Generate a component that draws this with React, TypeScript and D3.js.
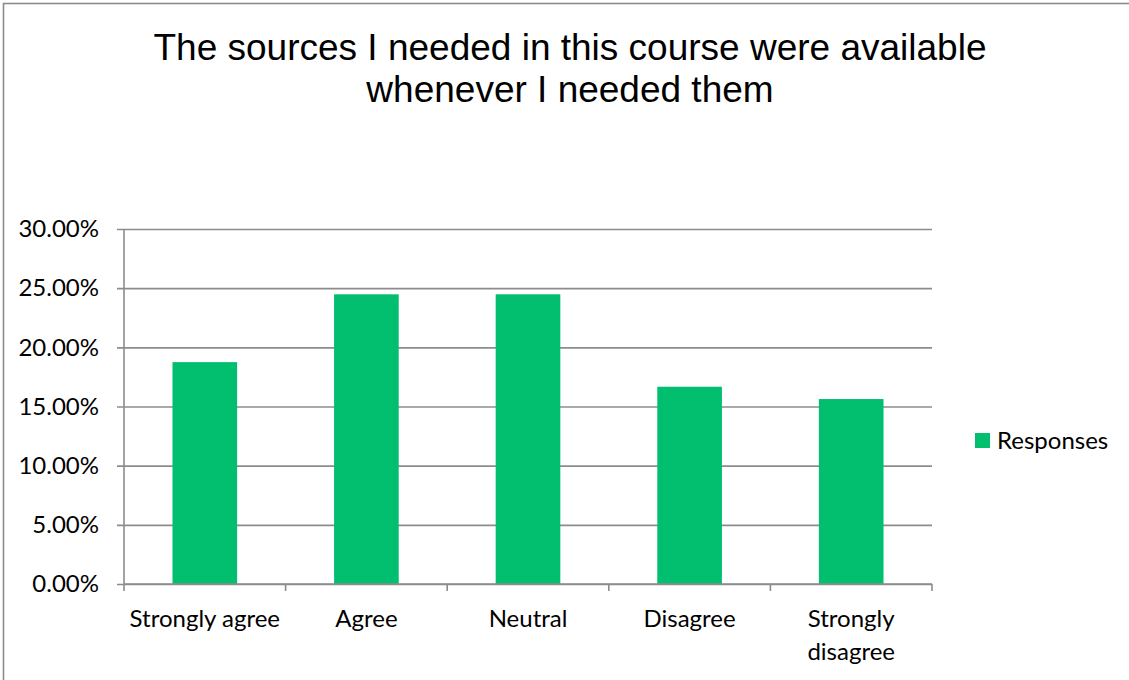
import { axisLeft, scaleBand, scaleLinear, select } from "d3";
import { useEffect, useRef } from "react";

const categories = ["Strongly agree", "Agree", "Neutral", "Disagree", "Strongly disagree"];
const responses = [0.1875, 0.2448, 0.2448, 0.1667, 0.1563];
const yTicks = [0, 0.05, 0.1, 0.15, 0.2, 0.25, 0.3];
const titleLines = ["The sources I needed in this course were available", "whenever I needed them"];
const seriesName = "Responses";

const W = 1129;
const H = 680;
const GREEN = "#02bf6f";
const GRID = "#8c8c8c";
const LABEL_FONT = "Lato, 'Open Sans', sans-serif";
const LABEL_SIZE = 24;

const margin = { top: 229, right: 197, bottom: 96, left: 124 };
const plotW = W - margin.left - margin.right;
const plotH = H - margin.top - margin.bottom;

function YAxis({ scale }: { scale: ReturnType<typeof scaleLinear<number, number>> }) {
  const ref = useRef<SVGGElement>(null);
  useEffect(() => {
    if (!ref.current) return;
    const g = select(ref.current);
    g.call(
      axisLeft(scale)
        .tickValues(yTicks)
        .tickSize(-plotW - 7)
        .tickSizeOuter(0)
        .tickFormat((d) => `${(+d * 100).toFixed(2)}%`)
    );
    g.select(".domain").remove();
    g.selectAll(".tick line")
      .attr("x1", -7)
      .attr("x2", plotW)
      .attr("stroke", GRID)
      .attr("stroke-width", 1.6);
    g.selectAll(".tick text")
      .attr("x", -25)
      .attr("fill", "#000")
      .style("font-family", LABEL_FONT)
      .style("font-size", `${LABEL_SIZE}px`);
  }, [scale]);
  return <g ref={ref} />;
}

export default function App() {
  const y = scaleLinear().domain([0, 0.3]).range([plotH, 0]);
  const x = scaleBand<string>().domain(categories).range([0, plotW]).padding(0);
  const barW = x.bandwidth() * 0.4;

  return (
    <svg
      width={W}
      height={H}
      style={{ position: "absolute", left: 0, top: 0, background: "#fff" }}
    >
      <rect x={3.5} y={3.5} width={W + 10} height={H + 10} fill="#fff" stroke={GRID} strokeWidth={1.6} />

      {titleLines.map((t, i) => (
        <text
          key={t}
          x={570}
          y={60 + i * 42}
          textAnchor="middle"
          fontFamily="'Liberation Sans', Arial, sans-serif"
          fontSize={37}
          fill="#000"
        >
          {t}
        </text>
      ))}

      <g transform={`translate(${margin.left},${margin.top})`}>
        <YAxis scale={y} />

        {categories.map((c, i) => (
          <rect
            key={c}
            x={(x(c) as number) + (x.bandwidth() - barW) / 2}
            y={y(responses[i])}
            width={barW}
            height={plotH - y(responses[i])}
            fill={GREEN}
          />
        ))}

        {/* x axis line with category boundary ticks */}
        <line x1={0} x2={plotW} y1={plotH} y2={plotH} stroke={GRID} strokeWidth={1.6} />
        <line x1={0} x2={0} y1={0} y2={plotH + 7} stroke={GRID} strokeWidth={1.6} />
        {categories.map((c) => (
          <line
            key={c}
            x1={(x(c) as number) + x.bandwidth()}
            x2={(x(c) as number) + x.bandwidth()}
            y1={plotH}
            y2={plotH + 7}
            stroke={GRID}
            strokeWidth={1.6}
          />
        ))}

        {categories.map((c) => {
          const words = c === "Strongly disagree" ? ["Strongly", "disagree"] : [c];
          return (
            <text
              key={c}
              textAnchor="middle"
              fontFamily={LABEL_FONT}
              fontSize={LABEL_SIZE}
              fill="#000"
            >
              {words.map((w, j) => (
                <tspan key={w} x={(x(c) as number) + x.bandwidth() / 2} y={plotH + 43 + j * 33}>
                  {w}
                </tspan>
              ))}
            </text>
          );
        })}
      </g>

      <g transform="translate(975,433)">
        <rect width={15} height={15} fill={GREEN} />
        <text x={22} y={16} fontFamily={LABEL_FONT} fontSize={LABEL_SIZE} fill="#000">
          {seriesName}
        </text>
      </g>
    </svg>
  );
}
